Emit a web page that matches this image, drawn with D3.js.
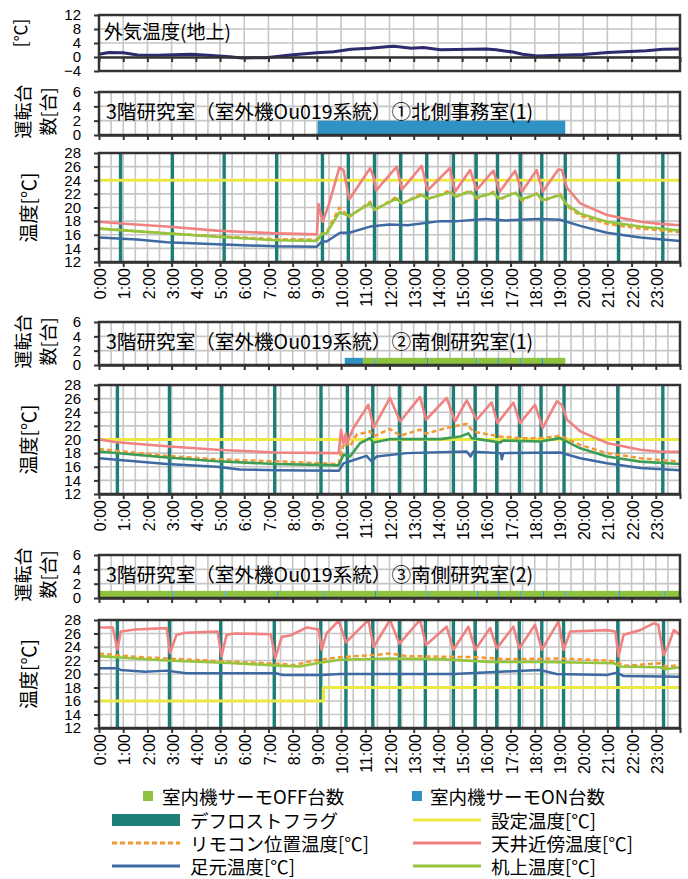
<!DOCTYPE html>
<html>
<head>
<meta charset="utf-8">
<script src="https://cdn.jsdelivr.net/npm/d3@7"></script>
<style>
  body { margin: 0; background: #fff; }
  svg text { fill: #000; }
</style>
</head>
<body>
<svg id="chart" width="688" height="879"></svg>
<script>
// ---- data (hour of day, value) ----
const hourLabels = ['0:00','1:00','2:00','3:00','4:00','5:00','6:00','7:00','8:00','9:00','10:00','11:00',
  '12:00','13:00','14:00','15:00','16:00','17:00','18:00','19:00','20:00','21:00','22:00','23:00'];
const outTicks = [-4, 0, 4, 8, 12];
const barTicks = [0, 2, 4, 6];
const tempTicks = [12, 14, 16, 18, 20, 22, 24, 26, 28];

const outdoorTemp = [[0,0.8],[0.4,1.3],[1.0,1.2],[1.6,0.6],[2.4,0.5],[3.8,0.8],[4.5,0.5],[5.4,0.1],[5.9,-0.3],
  [6.9,-0.2],[7.9,0.6],[9.0,1.2],[9.7,1.5],[10.4,2.2],[11.2,2.5],[12.0,3.0],[12.2,3.1],[12.9,2.5],[13.4,2.7],
  [14.1,2.1],[16.0,2.3],[16.4,2.1],[17.1,1.4],[17.5,0.8],[18.1,0.3],[19.0,0.5],[20.0,0.7],[21.0,1.3],
  [22.6,1.8],[23.3,2.2],[24.0,2.3]];

// unit counts as steps: time where the state starts, OFF units, ON units
const p1StepTime = [0, 9.03, 19.26, 24];
const p1StepOff  = [0, 0, 0];
const p1StepOn   = [0, 2, 0];
const p2StepTime = [0, 10.15, 10.9, 11.38, 11.43, 13.55, 13.6, 15.58, 15.63, 16.46, 16.51, 17.4, 17.45, 18.3, 18.35, 19.26, 24];
const p2StepOff  = [0, 0, 1, 0, 1, 0, 1, 0, 1, 0, 1, 0, 1, 0, 1, 0];
const p2StepOn   = [0, 1, 0, 1, 0, 1, 0, 1, 0, 1, 0, 1, 0, 1, 0, 0];
const p3StepTime = [0, 3.03, 3.08, 5.18, 5.23, 7.34, 7.39, 9.27, 9.32, 11.4, 11.45, 13.57, 13.62, 15.6, 15.65,
  16.5, 16.55, 17.4, 17.45, 18.33, 18.38, 19.26, 19.31, 21.46, 21.51, 23.32, 23.37, 24];
const p3StepOff  = [1,0,1,0,1,0,1,0,1,0,1,0,1,0,1,0,1,0,1,0,1,0,1,0,1,0,1];
const p3StepOn   = [0,1,0,1,0,1,0,1,0,1,0,1,0,1,0,1,0,1,0,1,0,1,0,1,0,1,0];

const p1Defrost = [0.89,3.03,5.17,7.34,9.23,10.30,11.38,12.46,13.54,14.64,15.58,16.46,17.40,18.29,19.26,21.46,23.29];
const p2Defrost = [0.76,2.91,5.07,7.26,9.17,10.26,11.31,12.41,13.48,14.64,15.54,16.43,17.37,18.26,19.21,21.43,23.29];
const p3Defrost = [0.76,2.91,5.03,7.24,9.16,10.2,11.31,12.41,13.48,14.64,15.54,16.43,17.36,18.29,19.19,21.43,23.32];

const p1SetTemp = [[0,24],[24,24]];
const p1Ceiling = [[0,17.9],[1.5,17.5],[2.8,17.2],[4.86,16.6],[7.3,16.2],[9.0,16.05],[9.07,20.5],[9.24,17.9],
  [9.5,20.5],[9.93,25.9],[10.1,25.5],[10.34,21.2],[11.2,25.75],[11.34,24.5],[11.45,22.5],[12.3,26.0],[12.51,22.6],
  [13.33,26.1],[13.57,22.5],[14.5,25.8],[14.71,22.3],[15.33,25.5],[15.6,22.6],[16.29,25.4],[16.55,22.3],
  [17.19,25.4],[17.47,22.3],[18.08,25.5],[18.33,22.3],[18.98,25.6],[19.12,25.5],[19.33,22.9],[19.88,20.6],
  [20.98,18.9],[22.36,17.9],[23.18,17.6],[24,17.4]];
const p1Remote = [[0,16.9],[2.8,16.2],[4.86,15.8],[7.3,15.35],[9.0,15.3],[9.2,16.1],[9.4,16.3],[9.93,20.0],
  [10.34,18.6],[11.2,20.85],[11.38,19.6],[12.3,21.6],[12.5,20.5],[13.33,22.1],[13.57,21.2],[14.5,22.5],
  [14.71,21.5],[15.33,22.5],[15.6,21.3],[16.29,22.3],[16.55,21.1],[17.19,22.3],[17.47,21.0],[18.08,22.1],
  [18.33,20.9],[19.05,22.0],[19.33,20.2],[19.88,18.8],[20.98,17.6],[22.36,16.9],[24,16.4]];
const p1Desk = [[0,16.9],[2.8,16.2],[4.86,15.7],[7.3,15.2],[9.0,15.1],[9.2,16.1],[9.4,16.2],[9.93,19.3],
  [10.34,18.75],[11.2,20.6],[11.38,19.7],[12.3,21.3],[12.5,20.6],[13.33,21.8],[13.57,21.3],[14.5,22.2],
  [14.71,21.6],[15.33,22.3],[15.6,21.5],[16.29,22.1],[16.55,21.3],[17.19,22.15],[17.47,21.2],[18.08,22.0],
  [18.33,21.1],[19.05,21.8],[19.33,20.4],[19.88,19.1],[20.98,17.9],[22.36,17.2],[24,16.6]];
const p1Foot = [[0,15.6],[1.57,15.3],[2.8,14.9],[4.86,14.6],[7.3,14.3],[9.0,14.25],[9.2,15.0],[9.4,15.0],
  [9.96,16.3],[10.34,16.3],[11.2,17.2],[12.0,17.5],[12.75,17.4],[14.1,18.0],[14.8,18.0],[15.96,18.3],
  [16.8,18.1],[18.2,18.3],[19.05,18.2],[19.88,17.3],[20.98,16.3],[22.36,15.6],[24,15.1]];

const p2SetTemp = [[0,20],[24,20]];
const p2Ceiling = [[0,20.0],[0.73,19.6],[2.8,19.0],[4.86,18.5],[7.3,18.1],[9.9,18.0],[10.0,21.4],[10.1,19.5],
  [10.2,20.9],[10.25,19.5],[10.51,21.7],[11.13,25.1],[11.34,21.7],[12.02,26.1],[12.44,22.65],[13.26,26.25],
  [13.51,22.9],[14.36,26.1],[14.71,22.65],[15.19,25.75],[15.6,22.9],[16.22,25.45],[16.46,22.4],[17.12,25.4],
  [17.39,22.4],[18.01,25.1],[18.33,21.7],[18.91,25.6],[19.12,25.1],[19.33,22.9],[19.88,21.2],[20.98,19.5],
  [22.36,18.5],[23.18,18.2],[24,18.2]];
const p2Remote = [[0,18.6],[2.8,17.6],[4.86,17.1],[7.3,16.8],[9.9,16.4],[10.0,18.0],[10.16,19.7],[10.37,19.0],
  [10.64,20.7],[11.19,21.2],[11.34,20.45],[12.02,21.55],[12.44,20.55],[13.26,21.45],[13.51,20.85],[14.36,21.7],
  [15.19,22.3],[15.46,21.2],[15.74,20.95],[16.57,20.45],[17.39,20.2],[18.22,20.2],[19.05,20.55],[19.88,19.2],
  [20.98,18.0],[22.36,17.25],[24,16.75]];
const p2Desk = [[0,18.25],[2.8,17.35],[4.86,16.8],[7.3,16.4],[9.9,16.2],[10.1,17.75],[10.37,17.5],[10.78,19.45],
  [11.19,20.2],[11.34,19.55],[12.02,20.05],[14.09,20.05],[14.92,20.45],[15.26,20.9],[15.39,20.2],[16.57,19.55],
  [16.7,19.85],[18.22,19.7],[19.05,20.2],[19.88,18.7],[20.98,17.5],[22.36,16.75],[24,16.4]];
const p2Foot = [[0,17.25],[2.8,16.4],[4.86,16.0],[5.8,15.6],[7.3,15.5],[9.9,15.4],[10.1,16.5],[10.37,16.8],
  [11.05,17.6],[11.26,16.8],[11.47,17.5],[12.71,18.0],[15.19,18.25],[15.35,17.5],[15.45,18.2],[16.6,18.0],
  [16.64,17.1],[16.7,18.0],[19.05,18.1],[19.88,17.25],[20.98,16.5],[22.36,15.8],[24,15.5]];

const p3SetTemp = [[0,16],[9.27,16],[9.27,18],[24,18]];
const p3Ceiling = [[0,26.9],[0.57,26.9],[0.76,23.6],[0.9,26.3],[1.5,26.6],[2.8,26.8],[2.93,23.1],[3.2,25.8],
  [3.6,26.1],[4.9,26.3],[5.06,22.6],[5.27,25.8],[5.6,26.0],[7.1,25.9],[7.28,22.3],[7.55,25.5],[7.9,25.7],
  [8.59,26.9],[9.07,26.6],[9.2,23.6],[9.4,26.0],[9.9,27.9],[10.2,24.7],[11.13,28],[11.34,24.0],[12.02,28],
  [12.41,24.5],[13.26,28],[13.51,24.3],[14.36,27.0],[14.64,23.6],[15.26,27.0],[15.54,23.6],[16.16,26.8],
  [16.43,23.8],[17.12,27.0],[17.36,23.8],[18.01,27.3],[18.29,23.6],[18.98,27.75],[19.19,23.6],[19.47,26.3],
  [20.98,26.5],[21.33,26.3],[21.46,22.6],[21.67,25.8],[22.36,26.5],[22.91,27.5],[23.1,27.3],[23.32,22.8],
  [23.53,24.3],[23.74,26.5],[24,25.8]];
const p3Remote = [[0,23.05],[1.5,22.55],[2.8,22.3],[5.6,21.8],[7.6,21.5],[8.0,21.3],[8.9,22.0],[9.96,22.5],
  [11.34,22.8],[12.02,23.05],[12.7,22.65],[15.46,22.5],[16.84,22.2],[19.05,22.3],[20.98,22.0],[21.4,21.8],
  [21.67,21.2],[23.18,21.6],[23.4,21.1],[24,21.3]];
const p3Desk = [[0,22.65],[1.5,22.3],[2.8,22.0],[5.6,21.6],[7.6,21.2],[8.3,21.1],[9.0,21.6],[9.96,22.1],
  [12.02,22.3],[14.09,22.2],[16.16,21.8],[18.22,21.8],[19.6,21.7],[21.26,21.6],[21.53,21.1],[23.18,21.0],
  [23.39,20.7],[24,21.0]];
const p3Foot = [[0,20.85],[0.76,20.85],[0.9,20.6],[1.9,20.35],[2.8,20.5],[3.6,20.1],[7.3,20.1],[7.6,19.85],
  [9.2,19.85],[9.96,20.0],[14.64,20.0],[17.29,20.45],[18.22,20.6],[18.9,20.0],[20.98,19.85],[21.4,20.2],
  [21.67,19.7],[24,19.6]];

// ---- styling ----
const GRID = '#c6c6c6', AX = '#333';
const OUTC = '#2d2a6e', ONC = '#2e93c4', OFFC = '#8dc33f', DEFC = '#1d7e78';
const SETC = '#ece843', REMC = '#f39a32', CEILC = '#f08282', FOOTC = '#3d6aa3';
const DESKC = '#95c43d', DESK2C = '#3d9c55';
const NUMFONT = '"Liberation Sans", Arial, sans-serif';
const JPFONT = '"Noto Sans CJK JP", sans-serif';

const svg = d3.select('#chart');
const X0 = 99, X1 = 680;
const x = d3.scaleLinear().domain([0, 24]).range([X0, X1]);
const hours = d3.range(0, 25);
const halfHours = d3.range(0, 24.5, 0.5);

function drawGrid(g, y, yVals, xVals) {
  g.selectAll(null).data(yVals).enter().append('line')
    .attr('x1', X0).attr('x2', X1).attr('y1', d => y(d)).attr('y2', d => y(d))
    .attr('stroke', GRID).attr('stroke-width', 1.6);
  g.selectAll(null).data(xVals).enter().append('line')
    .attr('x1', d => x(d)).attr('x2', d => x(d)).attr('y1', y.range()[1]).attr('y2', y.range()[0])
    .attr('stroke', GRID).attr('stroke-width', 1.6);
}

function drawFrame(g, top, bottom) {
  g.append('rect').attr('x', X0).attr('y', top).attr('width', X1 - X0).attr('height', bottom - top)
    .attr('fill', 'none').attr('stroke', AX).attr('stroke-width', 2.5);
}

function hourAxis(g, yPos, withLabels) {
  const ax = g.append('g').attr('transform', `translate(0,${yPos})`)
    .call(d3.axisBottom(x).tickValues(hours).tickSize(5).tickSizeOuter(0)
      .tickFormat(d => withLabels ? (hourLabels[d] || '') : ''));
  ax.select('.domain').attr('stroke', AX).attr('stroke-width', 2.5);
  ax.selectAll('.tick line').attr('stroke', AX).attr('stroke-width', 2);
  ax.selectAll('.tick text')
    .attr('font-family', NUMFONT).attr('font-size', 16)
    .attr('transform', 'rotate(-90)').attr('text-anchor', 'end')
    .attr('x', -6).attr('y', 1).attr('dy', '0.35em');
}

function valueAxis(g, y, vals) {
  const ax = g.append('g').attr('transform', `translate(${X0},0)`)
    .call(d3.axisLeft(y).tickValues(vals).tickSize(5).tickSizeOuter(0).tickPadding(13)
      .tickFormat(d3.format('d')));
  ax.select('.domain').remove();
  ax.selectAll('.tick line').attr('stroke', AX).attr('stroke-width', 2);
  ax.selectAll('.tick text').attr('font-family', NUMFONT).attr('font-size', 15);
}

function rotText(g, cx, cy, txt, size) {
  g.append('text').attr('transform', `translate(${cx},${cy}) rotate(-90)`)
    .attr('text-anchor', 'middle').attr('dominant-baseline', 'central')
    .attr('font-family', JPFONT).attr('font-size', size).text(txt);
}

// ---- outdoor panel ----
{
  const y = d3.scaleLinear().domain([-4, 12]).range([71, 15]);
  const g = svg.append('g');
  drawGrid(g, y, outTicks, hours);
  g.append('path').datum(outdoorTemp)
    .attr('d', d3.line().x(d => x(d[0])).y(d => y(d[1])))
    .attr('fill', 'none').attr('stroke', OUTC).attr('stroke-width', 3);
  drawFrame(g, y(12), y(-4));
  hourAxis(g, y(0), false);
  valueAxis(g, y, outTicks);
  g.append('text').attr('x', 104).attr('y', 30).attr('dominant-baseline', 'central')
    .attr('font-family', JPFONT).attr('font-size', 19).text('外気温度(地上)');
  rotText(g, 19, 33, '[℃]', 17);
}

// ---- unit count panels ----
function barPanel(top, bottom, title, stepTime, stepOff, stepOn) {
  const y = d3.scaleLinear().domain([0, 6]).range([bottom, top]);
  const g = svg.append('g');
  drawGrid(g, y, barTicks, halfHours);
  const segs = stepOff.map((off, i) => ({ t0: stepTime[i], t1: stepTime[i + 1], off: off, on: stepOn[i] }));
  g.selectAll(null).data(segs.filter(d => d.off > 0)).enter().append('rect')
    .attr('x', d => x(d.t0)).attr('width', d => x(d.t1) - x(d.t0))
    .attr('y', d => y(d.off)).attr('height', d => y(0) - y(d.off)).attr('fill', OFFC);
  g.selectAll(null).data(segs.filter(d => d.on > 0)).enter().append('rect')
    .attr('x', d => x(d.t0)).attr('width', d => x(d.t1) - x(d.t0))
    .attr('y', d => y(d.off + d.on)).attr('height', d => y(d.off) - y(d.off + d.on)).attr('fill', ONC);
  drawFrame(g, top, bottom);
  hourAxis(g, bottom, false);
  valueAxis(g, y, barTicks);
  g.append('text').attr('x', 106).attr('y', top + 18).attr('dominant-baseline', 'central')
    .attr('font-family', JPFONT).attr('font-size', 19.6).text(title);
  const cy = (top + bottom) / 2 - 2;
  rotText(g, 22, cy, '運転台', 18);
  rotText(g, 47, cy, '数[台]', 18);
}

// ---- temperature panels ----
let clipId = 0;
function tempPanel(top, bottom, p) {
  const y = d3.scaleLinear().domain([12, 28]).range([bottom, top]);
  const g = svg.append('g');
  drawGrid(g, y, tempTicks, halfHours);
  g.selectAll(null).data(p.defrost).enter().append('rect')
    .attr('x', d => x(d) - 1.7).attr('width', 3.4).attr('y', top).attr('height', bottom - top)
    .attr('fill', DEFC);
  const id = 'clip' + (clipId++);
  g.append('clipPath').attr('id', id).append('rect')
    .attr('x', X0).attr('y', top).attr('width', X1 - X0).attr('height', bottom - top);
  const line = d3.line().x(d => x(d[0])).y(d => y(d[1]));
  const lines = [
    { data: p.set, color: SETC, w: 3.2 },
    { data: p.remote, color: REMC, w: 2.5, dash: '5,3' },
    { data: p.ceiling, color: CEILC, w: 2.6 },
    { data: p.foot, color: FOOTC, w: 2.5 },
    { data: p.desk, color: p.deskColor, w: 2.6 }
  ];
  const lg = g.append('g').attr('clip-path', `url(#${id})`);
  lines.forEach(l => {
    lg.append('path').datum(l.data).attr('d', line)
      .attr('fill', 'none').attr('stroke', l.color).attr('stroke-width', l.w)
      .attr('stroke-dasharray', l.dash || null).attr('stroke-linejoin', 'round');
  });
  drawFrame(g, top, bottom);
  hourAxis(g, bottom, true);
  valueAxis(g, y, tempTicks);
  rotText(g, 27, (top + bottom) / 2, '温度[℃]', 19);
}

barPanel(92, 135, '3階研究室（室外機Ou019系統）①北側事務室(1)', p1StepTime, p1StepOff, p1StepOn);
tempPanel(153, 262, { set: p1SetTemp, remote: p1Remote, ceiling: p1Ceiling, foot: p1Foot, desk: p1Desk, defrost: p1Defrost, deskColor: DESKC });
barPanel(322, 365, '3階研究室（室外機Ou019系統）②南側研究室(1)', p2StepTime, p2StepOff, p2StepOn);
tempPanel(385, 494, { set: p2SetTemp, remote: p2Remote, ceiling: p2Ceiling, foot: p2Foot, desk: p2Desk, defrost: p2Defrost, deskColor: DESK2C });
barPanel(555, 598, '3階研究室（室外機Ou019系統）③南側研究室(2)', p3StepTime, p3StepOff, p3StepOn);
tempPanel(620, 728, { set: p3SetTemp, remote: p3Remote, ceiling: p3Ceiling, foot: p3Foot, desk: p3Desk, defrost: p3Defrost, deskColor: DESKC });

// ---- legend ----
{
  const g = svg.append('g').attr('font-family', JPFONT).attr('font-size', 18.5);
  g.append('rect').attr('x', 143).attr('y', 791).attr('width', 10).attr('height', 10).attr('fill', OFFC);
  g.append('text').attr('x', 162).attr('y', 796).attr('dominant-baseline', 'central').text('室内機サーモOFF台数');
  g.append('rect').attr('x', 412).attr('y', 791).attr('width', 10).attr('height', 10).attr('fill', ONC);
  g.append('text').attr('x', 430).attr('y', 796).attr('dominant-baseline', 'central').text('室内機サーモON台数');

  const items = [
    { label: 'デフロストフラグ', col: 0, row: 0, color: DEFC, bar: true },
    { label: '設定温度[℃]', col: 1, row: 0, color: SETC },
    { label: 'リモコン位置温度[℃]', col: 0, row: 1, color: REMC, dash: '5,3' },
    { label: '天井近傍温度[℃]', col: 1, row: 1, color: CEILC },
    { label: '足元温度[℃]', col: 0, row: 2, color: FOOTC },
    { label: '机上温度[℃]', col: 1, row: 2, color: DESKC }
  ];
  items.forEach(it => {
    const lx = it.col === 0 ? 112 : 413;
    const ly = 820 + it.row * 23;
    if (it.bar) {
      g.append('rect').attr('x', lx).attr('y', ly - 6).attr('width', 68).attr('height', 12).attr('fill', it.color);
    } else {
      g.append('line').attr('x1', lx).attr('x2', lx + 68).attr('y1', ly).attr('y2', ly)
        .attr('stroke', it.color).attr('stroke-width', 2.8).attr('stroke-dasharray', it.dash || null);
    }
    g.append('text').attr('x', lx + 78).attr('y', ly).attr('dominant-baseline', 'central').text(it.label);
  });
}
</script>
</body>
</html>
